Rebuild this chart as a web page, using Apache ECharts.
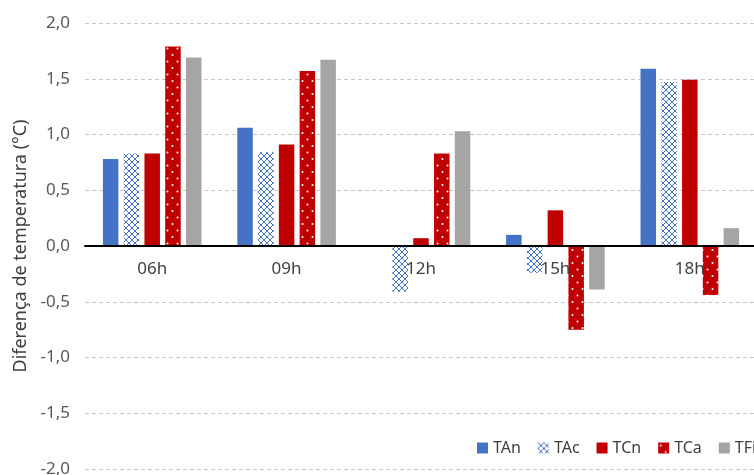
<!DOCTYPE html>
<html>
<head>
<meta charset="utf-8">
<script src="https://cdn.jsdelivr.net/npm/echarts@6/dist/echarts.min.js"></script>
<style>
  html, body { margin: 0; padding: 0; background: #fff; }
  #chart { width: 754px; height: 475px; }
</style>
</head>
<body>
<div id="chart"></div>
<script>
  var horas = ['06h', '09h', '12h', '15h', '18h']
  var tAn = [0.78, 1.06, 0, 0.10, 1.59]
  var tAc = [0.83, 0.84, -0.41, -0.24, 1.47]
  var tCn = [0.83, 0.91, 0.07, 0.32, 1.49]
  var tCa = [1.79, 1.57, 0.83, -0.75, -0.44]
  var tFi = [1.69, 1.67, 1.03, -0.39, 0.16]

  // padrao quadriculado azul (TAc)
  function padraoTAc () {
    var c = document.createElement('canvas')
    c.width = 6
    c.height = 6
    var g = c.getContext('2d')
    g.fillStyle = '#fff'
    g.fillRect(0, 0, 6, 6)
    g.strokeStyle = '#4472C4'
    g.lineWidth = 1
    g.beginPath()
    g.moveTo(0, 0); g.lineTo(6, 6)
    g.moveTo(6, 0); g.lineTo(0, 6)
    g.stroke()
    return c
  }

  // padrao vermelho com pontos brancos (TCa)
  function padraoTCa () {
    var c = document.createElement('canvas')
    c.width = 10
    c.height = 13
    var g = c.getContext('2d')
    g.fillStyle = '#C00000'
    g.fillRect(0, 0, 10, 13)
    g.fillStyle = '#fff'
    g.beginPath()
    g.arc(2.5, 3, 1, 0, Math.PI * 2)
    g.arc(7.5, 9.5, 1, 0, Math.PI * 2)
    g.fill()
    return c
  }

  var fonte = 'Noto Sans'
  var myChart = echarts.init(document.getElementById('chart'))

  function barra (nome, dados, cor) {
    return {
      name: nome,
      type: 'bar',
      data: dados,
      barWidth: 15.5,
      barGap: '34%',
      itemStyle: { color: cor },
      emphasis: { disabled: true }
    }
  }

  var option = {
    animation: false,
    grid: { left: 85, right: -3, top: 23, bottom: 6, outerBoundsMode: 'none' },
    legend: {
      left: 472,
      top: 435,
      width: 400,
      itemWidth: 11,
      itemHeight: 11,
      itemGap: 17,
      icon: 'rect',
      textStyle: { fontFamily: fonte, fontSize: 16, color: '#404040' },
      data: ['TAn', 'TAc', 'TCn', 'TCa', 'TFi']
    },
    xAxis: {
      type: 'category',
      data: horas,
      z: 10,
      // eixo desenhado na linha do zero (metade da altura do grid)
      offset: -223,
      axisLine: { onZero: false, lineStyle: { color: '#000', width: 2 } },
      axisTick: { show: false },
      axisLabel: { margin: 15, fontFamily: fonte, fontSize: 17, color: '#404040' },
      splitLine: { show: false }
    },
    yAxis: {
      type: 'value',
      min: -2,
      max: 2,
      interval: 0.5,
      name: 'Diferença de temperatura (°C)',
      nameLocation: 'middle',
      nameGap: 53,
      nameTextStyle: { fontFamily: fonte, fontSize: 18, color: '#404040' },
      axisLine: { show: false },
      axisTick: { show: false },
      axisLabel: {
        margin: 15,
        fontFamily: fonte,
        fontSize: 17,
        color: '#595959',
        formatter: function (v) { return v.toFixed(1).replace('.', ',') }
      },
      splitLine: { lineStyle: { color: '#c8c8c8', type: [4, 3], width: 1 } }
    },
    series: [
      barra('TAn', tAn, '#4472C4'),
      barra('TAc', tAc, { image: padraoTAc(), repeat: 'repeat' }),
      barra('TCn', tCn, '#C00000'),
      barra('TCa', tCa, { image: padraoTCa(), repeat: 'repeat' }),
      barra('TFi', tFi, '#A5A5A5')
    ]
  }
  myChart.setOption(option)
</script>
</body>
</html>
